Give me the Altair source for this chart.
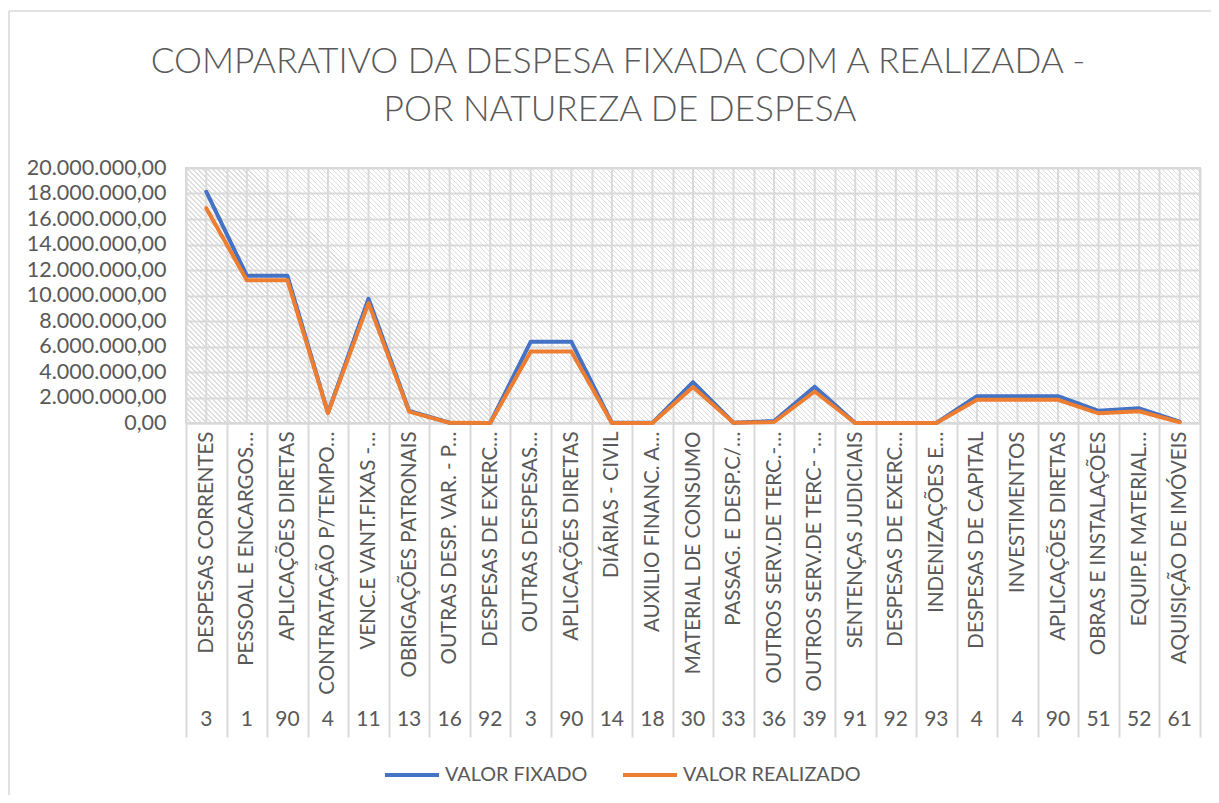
import json
import altair as alt
import pandas as pd

# ---------------- data ----------------
categories = [
    "DESPESAS CORRENTES", "PESSOAL E ENCARGOS…", "APLICAÇÕES DIRETAS",
    "CONTRATAÇÃO P/TEMPO…", "VENC.E VANT.FIXAS -…", "OBRIGAÇÕES PATRONAIS",
    "OUTRAS DESP. VAR. - P…", "DESPESAS DE EXERC…", "OUTRAS DESPESAS…",
    "APLICAÇÕES DIRETAS", "DIÁRIAS - CIVIL", "AUXILIO FINANC. A…",
    "MATERIAL DE CONSUMO", "PASSAG. E DESP.C/…", "OUTROS SERV.DE TERC.-…",
    "OUTROS SERV.DE TERC- -…", "SENTENÇAS JUDICIAIS", "DESPESAS DE EXERC…",
    "INDENIZAÇÕES E…", "DESPESAS DE CAPITAL", "INVESTIMENTOS",
    "APLICAÇÕES DIRETAS", "OBRAS E INSTALAÇÕES", "EQUIP.E MATERIAL…",
    "AQUISIÇÃO DE IMÓVEIS",
]
codes = ["3", "1", "90", "4", "11", "13", "16", "92", "3", "90", "14", "18",
         "30", "33", "36", "39", "91", "92", "93", "4", "4", "90", "51", "52", "61"]
valor_fixado = [18140000, 11550000, 11550000, 800000, 9750000, 950000, 20000, 0,
                6380000, 6380000, 10000, 10000, 3200000, 20000, 150000, 2850000,
                0, 0, 0, 2100000, 2100000, 2100000, 960000, 1150000, 100000]
valor_realizado = [16850000, 11200000, 11200000, 770000, 9400000, 890000, 10000, 0,
                   5600000, 5600000, 5000, 5000, 2820000, 10000, 80000, 2470000,
                   0, 0, 0, 1820000, 1820000, 1820000, 760000, 920000, 60000]
series_names = ["VALOR FIXADO", "VALOR REALIZADO"]
series_colors = ["#4472C4", "#ED7D31"]
y_ticks = [0, 2000000, 4000000, 6000000, 8000000, 10000000,
           12000000, 14000000, 16000000, 18000000, 20000000]
title_lines = ["COMPARATIVO DA DESPESA FIXADA COM A REALIZADA -",
               "POR NATUREZA DE DESPESA"]

rows = []
for i in range(len(categories)):
    rows.append({"idx": i, "serie": series_names[0], "valor": valor_fixado[i]})
for i in range(len(categories)):
    rows.append({"idx": i, "serie": series_names[1], "valor": valor_realizado[i]})
df = pd.DataFrame(rows)
df_cat = pd.DataFrame({"idx": list(range(len(categories))), "code": codes})

# ---------------- layout / style ----------------
W, H = 1014, 255
FONT = "Lato"
TXT = "#595959"
GRID = "#d9d9d9"

# diagonal hatch made with a linear gradient (bounding-box units)
n_str = 254
gx2 = W * (W + H) / (W * W + H * H)
gy2 = 1 - H * (W + H) / (W * W + H * H)
stops = []
HC = "rgba(215,215,215,0.85)"
for k in range(n_str):
    o = k / n_str
    d = 0.25 / n_str
    stops.append({"offset": o, "color": HC})
    stops.append({"offset": o + d, "color": HC})
    stops.append({"offset": o + d, "color": "rgba(255,255,255,0)"})
    stops.append({"offset": min(1.0, (k + 1) / n_str), "color": "rgba(255,255,255,0)"})
hatch_fill = alt.LinearGradient(gradient="linear", x1=0, y1=1, x2=gx2, y2=gy2, stops=stops)

label_expr_x = json.dumps(categories, ensure_ascii=False) + "[datum.value]"
label_expr_y = ("replace(replace(replace(format(datum.value, ',.2f'), regexp(',', 'g'), '#'),"
                " regexp('[.]', 'g'), ','), regexp('#', 'g'), '.')")

band = alt.Scale(type="band", paddingInner=0, paddingOuter=0)

x_enc = alt.X(
    "idx:O",
    scale=band,
    axis=alt.Axis(
        title=None, labelExpr=label_expr_x, labelAngle=-90, labelAlign="right",
        labelBaseline="middle", labelFont=FONT, labelFontSize=20.5, labelColor=TXT,
        labelLimit=400, labelOverlap=False, labelPadding=-306,
        grid=True, gridColor=GRID, gridWidth=2, tickBand="extent",
        ticks=True, tickSize=314, tickColor=GRID, tickWidth=2,
        domain=True, domainColor=GRID, domainWidth=2,
    ),
)
y_enc = alt.Y(
    "valor:Q",
    scale=alt.Scale(domain=[0, 20000000], nice=False),
    axis=alt.Axis(
        title=None, values=y_ticks, labelExpr=label_expr_y, labelFont=FONT,
        labelFontSize=21.5, labelColor=TXT, labelPadding=20, ticks=False,
        domain=False, grid=True, gridColor=GRID, gridWidth=2,
    ),
)

one = alt.Data(values=[{"a": 1}])

hatch = alt.Chart(one).mark_rect(fill=hatch_fill, strokeWidth=0).encode(
    x=alt.value(0), x2=alt.value(W), y=alt.value(0), y2=alt.value(H)
)

center_grid = alt.Chart(df_cat).mark_rule(color=GRID, strokeWidth=2).encode(
    x=alt.X("idx:O", scale=band)
)

lines = alt.Chart(df).mark_line(strokeWidth=4, strokeJoin="round", strokeCap="round").encode(
    x=x_enc,
    y=y_enc,
    color=alt.Color(
        "serie:N",
        scale=alt.Scale(domain=series_names, range=series_colors),
        legend=alt.Legend(
            title=None, orient="none", legendX=197, legendY=578, direction="horizontal",
            symbolType="stroke", symbolSize=2916, symbolStrokeWidth=4,
            labelFont=FONT, labelFontSize=19.8, labelColor=TXT, labelOffset=4,
            labelLimit=400, columnPadding=27, padding=0,
        ),
    ),
    order=alt.Order("idx:O"),
)

code_text = alt.Chart(df_cat).mark_text(
    font=FONT, fontSize=21, color=TXT, baseline="middle", align="center"
).encode(
    x=alt.X("idx:O", scale=band),
    y=alt.value(552),
    text="code:N",
)

title1 = alt.Chart(alt.Data(values=[{"t": title_lines[0]}])).mark_text(
    font=FONT, fontSize=35.3, fontWeight=300, color=TXT, baseline="middle", align="center"
).encode(x=alt.value(432), y=alt.value(-106), text="t:N")
title2 = alt.Chart(alt.Data(values=[{"t": title_lines[1]}])).mark_text(
    font=FONT, fontSize=35.3, fontWeight=300, color=TXT, baseline="middle", align="center"
).encode(x=alt.value(434), y=alt.value(-58), text="t:N")

frame_left = alt.Chart(one).mark_rule(color=GRID, strokeWidth=1.5).encode(
    x=alt.value(-177), y=alt.value(-157), y2=alt.value(627)
)
frame_top = alt.Chart(one).mark_rule(color=GRID, strokeWidth=1.5).encode(
    x=alt.value(-177), x2=alt.value(1025), y=alt.value(-157)
)

chart = alt.layer(
    hatch, center_grid, lines, code_text, title1, title2, frame_left, frame_top
).properties(
    width=W,
    height=H,
    autosize=alt.AutoSizeParams(type="none"),
    padding={"left": 178, "top": 160, "right": 11, "bottom": 372},
).configure_view(stroke=GRID, strokeWidth=2)

chart.save("out.html", embed_options={"renderer": "svg", "actions": False})
